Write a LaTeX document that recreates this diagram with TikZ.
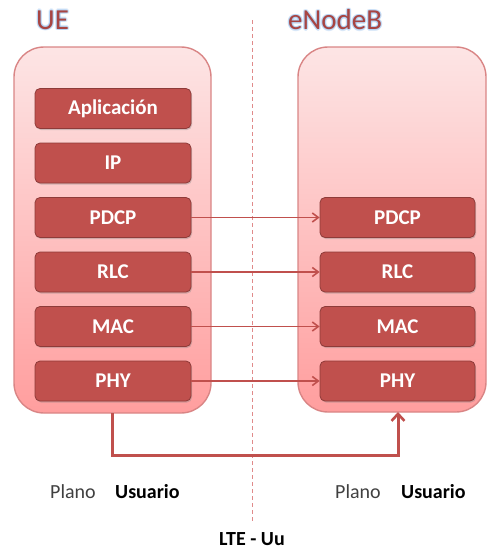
\documentclass[tikz,border=0pt]{standalone}
\usepackage{fontspec}
\setmainfont{Carlito}
\usetikzlibrary{arrows.meta,shadows}
\definecolor{layerred}{HTML}{C0504D}
\definecolor{layerdark}{HTML}{8E3B39}
\definecolor{contop}{HTML}{FDE5E5}
\definecolor{conbot}{HTML}{FF9E9E}
\definecolor{conborder}{HTML}{D98585}
\definecolor{titlered}{HTML}{A84542}
\definecolor{glowblue}{HTML}{9CC3EE}
\definecolor{dashred}{HTML}{E08A8A}
\definecolor{planegray}{HTML}{404040}
\tikzset{
  container/.style={draw=conborder, line width=1.4pt, rounded corners=30pt,
    top color=contop, bottom color=conbot},
  layer/.style={draw=layerdark, line width=0.8pt, fill=layerred, rounded corners=5pt,
    minimum width=156pt, minimum height=40pt, inner sep=0pt, text=white,
    font=\fontsize{21}{24}\selectfont\bfseries,
    drop shadow={shadow xshift=1pt, shadow yshift=-1.5pt, opacity=0.35}},
  link/.style={draw=layerred, line width=1.8pt, -{Straight Barb[length=6pt,width=9pt,line width=1.6pt]}},
  uplink/.style={draw=layerred, line width=3pt, -{Straight Barb[length=7pt,width=13pt,line width=2.6pt]}},
  titletext/.style={text=titlered, font=\fontsize{29}{32}\selectfont, inner sep=0pt},
  glowtext/.style={text=glowblue, font=\fontsize{29}{32}\selectfont, inner sep=0pt, opacity=0.35},
  plane/.style={font=\fontsize{20}{24}\selectfont, inner sep=0pt, text=planegray},
  planebold/.style={font=\fontsize{20}{24}\selectfont\bfseries, inner sep=0pt, text=black},
  sep/.style={draw=dashred, line width=1pt, dash pattern=on 4pt off 3pt}
}
\begin{document}
\begin{tikzpicture}[x=1pt,y=-1pt]
\useasboundingbox (0,0) rectangle (488,550);
% separator
\coordinate (septop) at (252,20);
\coordinate (sepbot) at (252,522);
\draw[sep] (septop) -- (sepbot);
% containers
\path[container] (14,47) rectangle (211,413);
\path[container] (298,47) rectangle (486,412);
\coordinate (ueb) at (112,413);
\coordinate (enb) at (398,412);
% titles with glow
\foreach \dx/\dy in {-1.5/0,1.5/0,0/-1.5,0/1.5,-1/-1,1/1,-1/1,1/-1}{
  \node[glowtext, anchor=west] at ([xshift=\dx pt,yshift=\dy pt]36,20) {UE};
  \node[glowtext, anchor=west] at ([xshift=\dx pt,yshift=\dy pt]288,20) {eNodeB};
}
\node[titletext, anchor=west] (tue) at (36,20) {UE};
\node[titletext, anchor=west] (tenb) at (288,20) {eNodeB};
% UE layers
\node[layer] (app) at (113,108.5) {Aplicación};
\node[layer] (ip) at (113,163) {IP};
\node[layer] (pdcpL) at (113,217.5) {PDCP};
\node[layer] (rlcL) at (113,272) {RLC};
\node[layer] (macL) at (113,326.5) {MAC};
\node[layer] (phyL) at (113,381) {PHY};
% eNodeB layers
\node[layer, minimum width=155pt] (pdcpR) at (397.5,217.5) {PDCP};
\node[layer, minimum width=155pt] (rlcR) at (397.5,272) {RLC};
\node[layer, minimum width=155pt] (macR) at (397.5,326.5) {MAC};
\node[layer, minimum width=155pt] (phyR) at (397.5,381) {PHY};
% links
\draw[link] (pdcpL) -- (pdcpR);
\draw[link] (rlcL) -- (rlcR);
\draw[link] (macL) -- (macR);
\draw[link] (phyL) -- (phyR);
% bottom connector
\draw[uplink] (ueb) |- (255,455) -| (enb);
% labels
\node[plane, anchor=base west] (pl1) at (50,498) {Plano};
\node[planebold, anchor=base west] (us1) at (115,498) {Usuario};
\node[plane, anchor=base west] (pl2) at (335,498) {Plano};
\node[planebold, anchor=base west] (us2) at (401,498) {Usuario};
\node[planebold, anchor=base] (lte) at (252,545) {LTE - Uu};
\end{tikzpicture}
\end{document}
